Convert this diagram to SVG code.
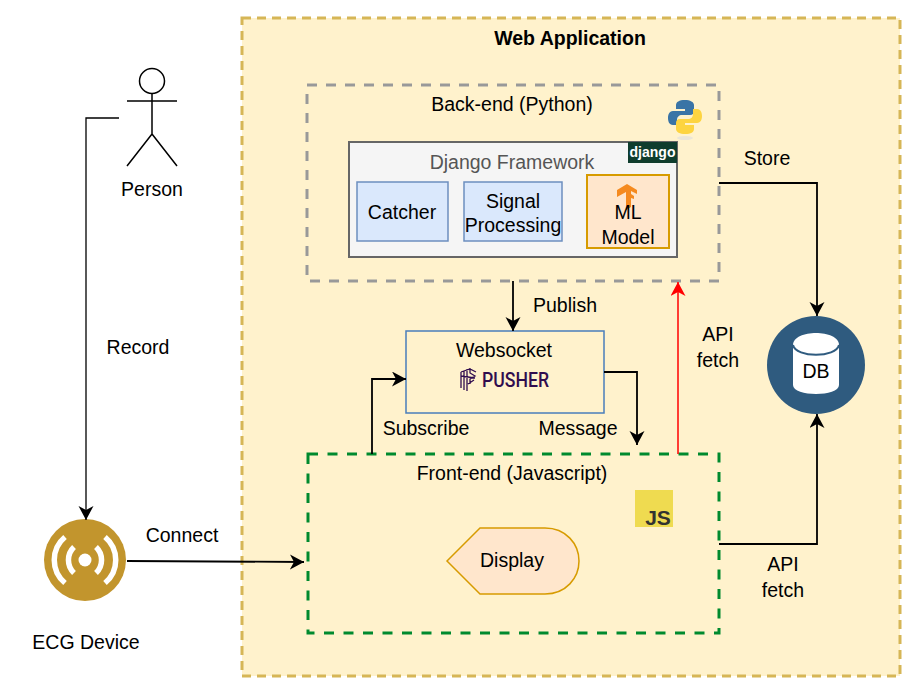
<svg xmlns="http://www.w3.org/2000/svg" width="918" height="693" viewBox="0 0 918 693">
<style>
text{font-family:"Liberation Sans",Arial,sans-serif;font-size:19.500px;fill:#000;text-anchor:middle}
.c{fill:none;stroke:#000;stroke-width:1.800}
</style>
<defs>
<marker id="a" markerUnits="userSpaceOnUse" markerWidth="16" markerHeight="16" refX="14" refY="7.5" orient="auto"><path d="M0 0L14 7.5L0 15L4 7.5Z" fill="#000"/></marker>
<marker id="r" markerUnits="userSpaceOnUse" markerWidth="16" markerHeight="16" refX="14" refY="7.5" orient="auto"><path d="M0 0L14 7.5L0 15L4 7.5Z" fill="#f00"/></marker>
</defs>
<rect width="918" height="693" fill="#fff"/>
<g id="web-application">
<rect x="242" y="18" width="658" height="658" fill="#fff2cc" stroke="#d6b656" stroke-width="3" stroke-dasharray="9 6"/>
<text x="570" y="44.700" style="font-weight:bold">Web Application</text>
</g>
<g id="back-end">
<rect x="307" y="85" width="412" height="196" fill="none" stroke="#999" stroke-width="3" stroke-dasharray="10 9"/>
<text x="512" y="110.700">Back-end (Python)</text>
<g id="python-logo">
<ellipse cx="685" cy="138" rx="8" ry="2" fill="#ddd" opacity=".6"/>
<path d="M685 100c-6 0-9 2-9 5v4h9v2h-12c-4 0-5 4-5 7s1 7 5 7h4v-5c0-3 2-5 5-5h8c3 0 4-2 4-4v-6c0-3-4-5-9-5z" fill="#3a74a6"/>
<path d="M685 134c6 0 9-2 9-5v-4h-9v-2h12c4 0 5-4 5-7s-1-7-5-7h-4v5c0 3-2 5-5 5h-8c-3 0-4 2-4 4v6c0 3 4 5 9 5z" fill="#fdd440"/>
</g>
</g>
<g id="django-framework">
<rect x="349" y="142" width="328" height="115" fill="#f5f5f5" stroke="#666" stroke-width="2"/>
<text x="512" y="168.700" style="fill:#555">Django Framework</text>
<rect x="628" y="142" width="49" height="21" fill="#0f3d2e"/>
<text x="652.500" y="157" style="fill:#fff;font-size:14px;font-weight:bold">django</text>
</g>
<g id="catcher">
<rect x="357" y="182" width="91" height="59" fill="#dae8fc" stroke="#6c8ebf" stroke-width="1.5"/>
<text x="402" y="218.500">Catcher</text>
</g>
<g id="signal-processing">
<rect x="464" y="182" width="98" height="59" fill="#dae8fc" stroke="#6c8ebf" stroke-width="1.5"/>
<text x="513" y="207.500">Signal</text>
<text x="513" y="231.500">Processing</text>
</g>
<g id="ml-model">
<rect x="587" y="175" width="82" height="73" fill="#ffe6cc" stroke="#d79b00" stroke-width="2"/>
<path d="M617 190l10-6 10 6v4l-6-3v3l3 2v3l-3-1v9l-5 3v-18l-9 5z" fill="#f58a1f"/>
<text x="628" y="218.500">ML</text>
<text x="628" y="243.500">Model</text>
</g>
<g id="websocket">
<rect x="406" y="331" width="198" height="82" fill="#fff2cc" stroke="#4a7ebb" stroke-width="1.5"/>
<text x="504" y="356.500">Websocket</text>
<g id="pusher-logo" stroke="#300d4f" stroke-width="1.3" fill="none">
<path d="M461 372v16M464 371v19M467 369v22M470 368v5l5 3-5 3v5M461 372l9-3 6 3M461 376l14 2M468 384l6-4"/>
</g>
<text x="515.500" y="387" style="fill:#300d4f;font-size:21px;font-family:'Roboto','Liberation Sans',sans-serif;font-weight:500" textLength="67" lengthAdjust="spacingAndGlyphs">PUSHER</text>
</g>
<g id="front-end">
<rect x="308" y="454" width="411" height="179" fill="none" stroke="#008a2e" stroke-width="3" stroke-dasharray="10 9.500"/>
<text x="512" y="479.500">Front-end (Javascript)</text>
<rect x="635" y="490" width="38" height="37" fill="#efdb50"/>
<text x="658" y="524.500" style="fill:#323330;font-size:21px;font-weight:bold">JS</text>
</g>
<g id="display">
<path d="M447 561L480 528H545C566 528 579 544 579 561C579 578 566 594 545 594H480Z" fill="#ffe6cc" stroke="#d79b00" stroke-width="1.500"/>
<text x="512" y="566.500">Display</text>
</g>
<g id="db">
<circle cx="816" cy="365" r="49" fill="#2f5b7f"/>
<path d="M793 345C793 329 839 329 839 345V385C839 397 793 397 793 385Z" fill="#fff"/>
<path d="M793 345C796 358 836 358 839 345" fill="none" stroke="#2f5b7f" stroke-width="2"/>
<text x="816" y="377.500">DB</text>
</g>
<g id="person" fill="none" stroke="#000" stroke-width="1.500">
<circle cx="152" cy="81" r="12.500" fill="#fff"/>
<path d="M152 93.500V134M127 101H177M152 134L127 166M152 134L177 166"/>
<text x="152" y="195.500" stroke="none">Person</text>
</g>
<g id="ecg-device">
<circle cx="85" cy="560" r="41" fill="#c2952d"/>
<circle cx="85" cy="560" r="6.500" fill="#fff"/>
<g fill="none" stroke="#fff" stroke-width="5.500">
<path d="M74 547A18 18 0 0 0 74 573M96 547A18 18 0 0 1 96 573"/>
<path d="M65 537A30 30 0 0 0 65 583M105 537A30 30 0 0 1 105 583"/>
</g>
<text x="86" y="648.500">ECG Device</text>
</g>
<g id="connectors">
<path class="c" style="stroke-width:1.300" d="M119 118H86V520" marker-end="url(#a)"/>
<path class="c" d="M127 561L304 562" marker-end="url(#a)"/>
<path class="c" d="M719 183H817V316" marker-end="url(#a)"/>
<path class="c" d="M513 281V331" marker-end="url(#a)"/>
<path class="c" d="M372 454V379H406" marker-end="url(#a)"/>
<path class="c" d="M604 372H637V445" marker-end="url(#a)"/>
<path class="c" d="M719 544H817V414" marker-end="url(#a)"/>
<path d="M678 454V282" fill="none" stroke="#f00" stroke-width="1.500" marker-end="url(#r)"/>
</g>
<g id="labels">
<text x="138" y="353.500">Record</text>
<text x="182" y="541.500">Connect</text>
<text x="767" y="164.500">Store</text>
<text x="565" y="311.500">Publish</text>
<text x="426" y="434.500">Subscribe</text>
<text x="578" y="435">Message</text>
<text x="718" y="340.500">API</text>
<text x="718" y="366.500">fetch</text>
<text x="783" y="570.500">API</text>
<text x="783" y="596.500">fetch</text>
</g>
</svg>
